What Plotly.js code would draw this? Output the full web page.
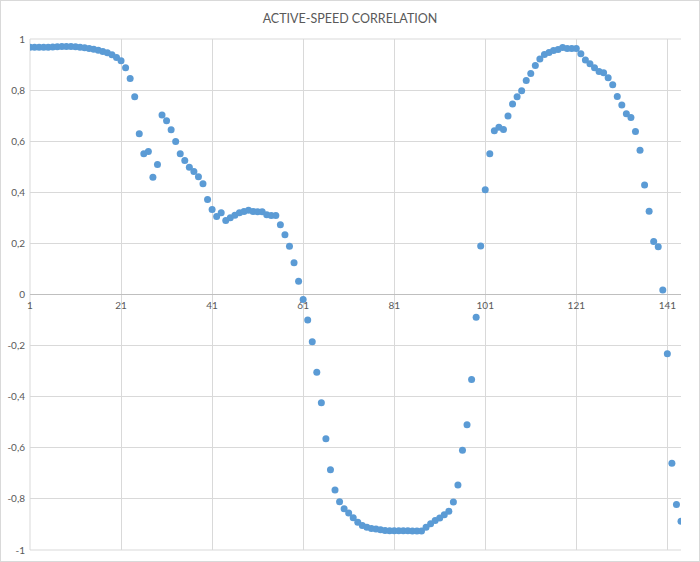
<!DOCTYPE html>
<html>
<head>
<meta charset="utf-8">
<script src="https://cdn.plot.ly/plotly-3.0.1.min.js"></script>
<style>
  html, body { margin: 0; padding: 0; background: #ffffff; }
  #wrap { position: relative; width: 700px; height: 562px; }
  #chart { width: 700px; height: 562px; }
  #frame { position: absolute; left: 0; top: 0; width: 700px; height: 562px; box-sizing: border-box; border: 1px solid #d9d9d9; pointer-events: none; }
</style>
</head>
<body>
<div id="wrap">
  <div id="chart"></div>
  <div id="frame"></div>
</div>
<script>
const chartTitle = "ACTIVE-SPEED CORRELATION";

const xIndex = [
  1, 2, 3, 4, 5, 6, 7, 8, 9, 10, 11, 12, 13, 14, 15, 16, 17, 18, 19, 20,
  21, 22, 23, 24, 25, 26, 27, 28, 29, 30, 31, 32, 33, 34, 35, 36, 37, 38, 39, 40,
  41, 42, 43, 44, 45, 46, 47, 48, 49, 50, 51, 52, 53, 54, 55, 56, 57, 58, 59, 60,
  61, 62, 63, 64, 65, 66, 67, 68, 69, 70, 71, 72, 73, 74, 75, 76, 77, 78, 79, 80,
  81, 82, 83, 84, 85, 86, 87, 88, 89, 90, 91, 92, 93, 94, 95, 96, 97, 98, 99, 100,
  101, 102, 103, 104, 105, 106, 107, 108, 109, 110, 111, 112, 113, 114, 115, 116, 117, 118, 119, 120,
  121, 122, 123, 124, 125, 126, 127, 128, 129, 130, 131, 132, 133, 134, 135, 136, 137, 138, 139, 140,
  141, 142, 143, 144
];

const correlation = [
  0.968, 0.968, 0.968, 0.968, 0.968, 0.969, 0.970, 0.971, 0.971, 0.971,
  0.970, 0.968, 0.966, 0.963, 0.960, 0.956, 0.951, 0.946, 0.938, 0.928,
  0.915, 0.887, 0.845, 0.774, 0.629, 0.551, 0.560, 0.459, 0.509, 0.703,
  0.680, 0.645, 0.599, 0.551, 0.524, 0.498, 0.481, 0.461, 0.433, 0.372,
  0.333, 0.305, 0.320, 0.290, 0.300, 0.310, 0.320, 0.325, 0.330, 0.325,
  0.324, 0.324, 0.312, 0.309, 0.309, 0.273, 0.234, 0.189, 0.124, 0.052,
  -0.020, -0.100, -0.185, -0.304, -0.424, -0.565, -0.686, -0.765, -0.811, -0.839,
  -0.855, -0.874, -0.891, -0.904, -0.911, -0.916, -0.918, -0.921, -0.924, -0.925,
  -0.925, -0.925, -0.925, -0.925, -0.926, -0.926, -0.926, -0.911, -0.897, -0.885,
  -0.875, -0.862, -0.848, -0.812, -0.746, -0.610, -0.510, -0.333, -0.089, 0.190,
  0.410, 0.551, 0.641, 0.655, 0.646, 0.699, 0.746, 0.774, 0.797, 0.838,
  0.865, 0.896, 0.922, 0.939, 0.947, 0.955, 0.959, 0.967, 0.963, 0.963,
  0.963, 0.942, 0.918, 0.903, 0.887, 0.873, 0.868, 0.848, 0.821, 0.775,
  0.742, 0.707, 0.693, 0.638, 0.565, 0.429, 0.326, 0.207, 0.187, 0.018,
  -0.232, -0.660, -0.822, -0.887
];

const xTickVals = [1, 21, 41, 61, 81, 101, 121, 141];
const xTickText = ["1", "21", "41", "61", "81", "101", "121", "141"];
const yTickVals = [1, 0.8, 0.6, 0.4, 0.2, 0, -0.2, -0.4, -0.6, -0.8, -1];
const yTickText = ["1", "0,8", "0,6", "0,4", "0,2", "0", "-0,2", "-0,4", "-0,6", "-0,8", "-1"];

const gridColor = "#d9d9d9";

const trace = {
  type: "scatter",
  mode: "markers",
  x: xIndex,
  y: correlation,
  marker: { color: "#5b9bd5", size: 7, line: { width: 0 } },
  hoverinfo: "x+y",
  showlegend: false
};

const edgeLine = { color: gridColor, width: 1 };

const layout = {
  width: 700,
  height: 562,
  margin: { l: 30, r: 19, t: 39, b: 12, pad: 0 },
  paper_bgcolor: "#ffffff",
  plot_bgcolor: "#ffffff",
  font: { family: "Lato, 'Open Sans', sans-serif", color: "#595959", size: 10 },
  separators: ", ",
  title: {
    text: chartTitle,
    font: { family: "Lato, 'Open Sans', sans-serif", size: 12.5, color: "#595959" },
    x: 0.5, xref: "container", xanchor: "center",
    y: 0.966, yref: "container", yanchor: "middle"
  },
  shapes: [
    { type: "line", xref: "paper", yref: "paper", x0: 0, x1: 0, y0: 0, y1: 1, line: edgeLine, layer: "below" },
    { type: "line", xref: "paper", yref: "paper", x0: 0, x1: 1, y0: 1, y1: 1, line: edgeLine, layer: "below" },
    { type: "line", xref: "paper", yref: "paper", x0: 0, x1: 1, y0: 0, y1: 0, line: edgeLine, layer: "below" }
  ],
  xaxis: {
    range: [1, 144],
    anchor: "free",
    position: 0.5,
    tickmode: "array",
    tickvals: xTickVals,
    ticktext: xTickText,
    showgrid: true,
    gridcolor: gridColor,
    gridwidth: 1,
    zeroline: false,
    showline: false,
    ticks: "",
    ticklabelstandoff: 3,
    tickfont: { size: 10, color: "#595959" },
    fixedrange: true
  },
  yaxis: {
    range: [-1, 1],
    tickmode: "array",
    tickvals: yTickVals,
    ticktext: yTickText,
    showgrid: true,
    gridcolor: gridColor,
    gridwidth: 1,
    zeroline: true,
    zerolinecolor: "#bfbfbf",
    zerolinewidth: 1,
    showline: false,
    ticks: "",
    ticklabelstandoff: 4,
    tickfont: { size: 10, color: "#595959" },
    fixedrange: true
  }
};

Plotly.newPlot("chart", [trace], layout, { displayModeBar: false, staticPlot: true });
</script>
</body>
</html>
